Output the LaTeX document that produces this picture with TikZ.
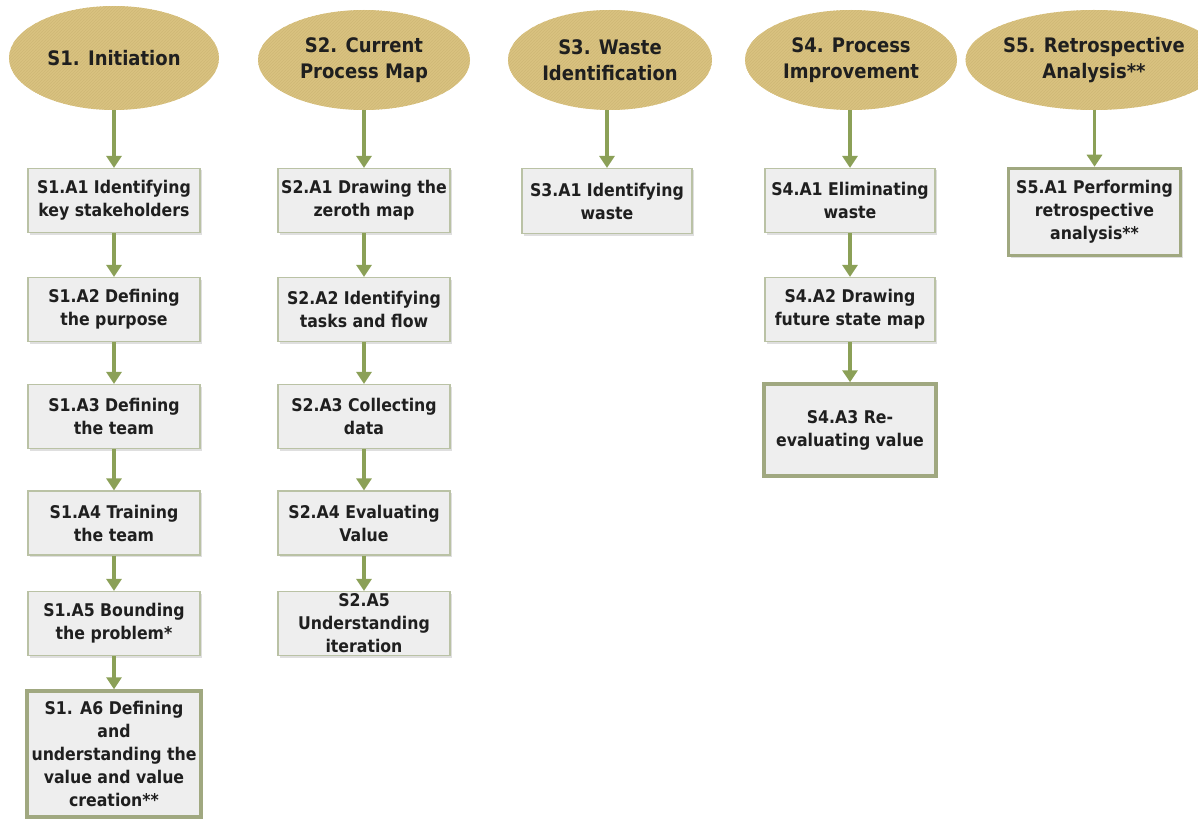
\documentclass[tikz,border=0pt]{standalone}
\usepackage{fontspec}
\setmainfont{DejaVu Sans Condensed}[BoldFont={DejaVu Sans Condensed Bold}]
\usetikzlibrary{arrows.meta,shapes.geometric,shadows,patterns}
\definecolor{tan}{RGB}{217,194,128}
\definecolor{tanline}{RGB}{207,184,118}
\definecolor{olive}{RGB}{139,160,87}
\definecolor{boxfill}{RGB}{238,238,238}
\definecolor{boxline}{RGB}{186,194,165}
\definecolor{heavyline}{RGB}{160,168,128}
\tikzset{
  stage/.style={ellipse, minimum width=212, minimum height=100, inner sep=0pt,
    preaction={fill=tan}, pattern=north east lines, pattern color=tanline,
    align=center, font=\fontsize{20}{26}\selectfont\bfseries, text=black!88},
  actbox/.style={rectangle, minimum width=172, minimum height=64, inner sep=2pt,
    draw=boxline, line width=1.2pt, fill=boxfill,
    drop shadow={shadow xshift=2pt, shadow yshift=-2pt, opacity=0.25},
    align=center, font=\fontsize{17.5}{23}\selectfont\bfseries, text=black!88},
  keybox/.style={actbox, draw=heavyline, line width=3.5pt},
  flow/.style={draw=olive, line width=3.4pt, -{Triangle[width=15pt,length=12pt]}},
}
\begin{document}
\begin{tikzpicture}[x=1pt,y=-1pt]
\useasboundingbox (0,0) rectangle (1198,821);

% stage headings
\node[stage, minimum width=210, minimum height=104] (e1) at (114,58) {S1. Initiation};
\node[stage] (e2) at (364,60) {S2. Current\\Process Map};
\node[stage, minimum width=204] (e3) at (610,60) {S3. Waste\\Identification};
\node[stage] (e4) at (851,60) {S4. Process\\Improvement};
\node[stage, minimum width=208] (e5) at (1094,60) {S5. Retrospective\\Analysis**};

% S1 activities
\node[actbox] (a11) at (114,200.5) {S1.A1 Identifying\\key stakeholders};
\node[actbox] (a12) at (114,309.5) {S1.A2 Defining\\the purpose};
\node[actbox] (a13) at (114,416.5) {S1.A3 Defining\\the team};
\node[actbox] (a14) at (114,523) {S1.A4 Training\\the team};
\node[actbox] (a15) at (114,623.5) {S1.A5 Bounding\\the problem*};
\node[keybox, minimum width=174, minimum height=126] (a16) at (114,754)
  {S1. A6 Defining\\and\\understanding the\\value and value\\creation**};

% S2 activities
\node[actbox] (a21) at (364,200.5) {S2.A1 Drawing the\\zeroth map};
\node[actbox] (a22) at (364,309.5) {S2.A2 Identifying\\tasks and flow};
\node[actbox] (a23) at (364,416.5) {S2.A3 Collecting\\data};
\node[actbox] (a24) at (364,523) {S2.A4 Evaluating\\Value};
\node[actbox] (a25) at (364,623.5) {S2.A5\\Understanding\\iteration};

% S3 activities
\node[actbox, minimum width=170, minimum height=65] (a31) at (607,201) {S3.A1 Identifying\\waste};

% S4 activities
\node[actbox, minimum width=170] (a41) at (850,200.5) {S4.A1 Eliminating\\waste};
\node[actbox, minimum width=170] (a42) at (850,309.5) {S4.A2 Drawing\\future state map};
\node[keybox, minimum width=172, minimum height=92] (a43) at (850,430) {S4.A3 Re-\\evaluating value};

% S5 activities
\node[keybox, minimum width=172, minimum height=87] (a51) at (1094.5,212) {S5.A1 Performing\\retrospective\\analysis**};

% flow arrows
\draw[flow] (e1) -- (a11);
\draw[flow] (a11) -- (a12);
\draw[flow] (a12) -- (a13);
\draw[flow] (a13) -- (a14);
\draw[flow] (a14) -- (a15);
\draw[flow] (a15) -- (a16);
\draw[flow] (e2) -- (a21);
\draw[flow] (a21) -- (a22);
\draw[flow] (a22) -- (a23);
\draw[flow] (a23) -- (a24);
\draw[flow] (a24) -- (a25);
\draw[flow] (e3.south -| a31) -- (a31);
\draw[flow] (e4.south -| a41) -- (a41);
\draw[flow] (a41) -- (a42);
\draw[flow] (a42) -- (a43);
\draw[flow] (e5.south -| a51) -- (a51);
\end{tikzpicture}
\end{document}
